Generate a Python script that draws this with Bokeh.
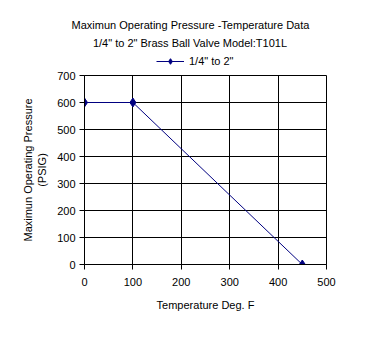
from bokeh.plotting import figure
from bokeh.models import Label, Legend, LegendItem, FixedTicker
from bokeh.layouts import column
from bokeh.embed import file_html
from bokeh.resources import INLINE

temperature = [0, 100, 450]
pressure = [600, 600, 0]
x_ticks = [0, 100, 200, 300, 400, 500]
y_ticks = [0, 100, 200, 300, 400, 500, 600, 700]
series_name = '1/4" to 2"'
title1 = "Maximun Operating Pressure -Temperature Data"
title2 = '1/4" to 2"  Brass Ball Valve Model:T101L'

FONT = "Liberation Sans"
NAVY = "#000080"

# ---- header (titles + legend) ----
HEAD_H = 70
head = figure(width=380, height=HEAD_H, x_range=(-1000, -999), y_range=(-1000, -999),
              output_backend="svg", toolbar_location=None,
              x_axis_location=None, y_axis_location=None,
              min_border=0, min_border_left=0, min_border_right=0,
              min_border_top=0, min_border_bottom=0)
head.frame_align = False
head.outline_line_color = None
head.xgrid.visible = False
head.ygrid.visible = False
head.background_fill_color = "white"
head.border_fill_color = "white"

for txt, xc, yc in ((title1, 190, HEAD_H - 24), (title2, 191, HEAD_H - 42)):
    head.add_layout(Label(x=xc, y=yc, x_units="screen", y_units="screen", text=txt,
                          text_align="center", text_baseline="middle",
                          text_font=FONT, text_font_size="11px", text_color="black"))

# legend proxies: same series, but outside this header's (empty) view range
leg_line = head.line(temperature, pressure, line_color=NAVY, line_width=1)
leg_pts = head.scatter(temperature, pressure, marker="diamond", size=9, fill_color=NAVY, line_color=NAVY)
legend = Legend(items=[LegendItem(label=series_name, renderers=[leg_line, leg_pts])],
                location=(156, 2), orientation="horizontal",
                label_text_font=FONT, label_text_font_size="11px", label_text_color="black",
                border_line_color=None, background_fill_alpha=0,
                glyph_width=28, glyph_height=14, padding=2, margin=0, label_standoff=5)
head.add_layout(legend, "center")

# ---- main chart ----
p = figure(width=380, height=347 - HEAD_H, x_range=(0, 500), y_range=(0, 700),
           output_backend="svg", toolbar_location=None,
           min_border_left=84, min_border_right=54, min_border_top=5, min_border_bottom=83)
p.frame_align = False
p.background_fill_color = "white"
p.border_fill_color = "white"
p.outline_line_color = "black"
p.outline_line_width = 1

p.line(temperature, pressure, line_color=NAVY, line_width=1)
p.scatter(temperature, pressure, marker="diamond", size=9, fill_color=NAVY, line_color=NAVY)

for ax in (p.xaxis[0], p.yaxis[0]):
    ax.axis_line_color = "black"
    ax.major_tick_line_color = "black"
    ax.major_tick_out = 5
    ax.major_tick_in = 0
    ax.minor_tick_line_color = None
    ax.major_label_text_font = FONT
    ax.major_label_text_font_size = "11px"
    ax.major_label_text_color = "black"
    ax.axis_label_text_font = FONT
    ax.axis_label_text_font_size = "11px"
    ax.axis_label_text_font_style = "normal"
    ax.axis_label_text_color = "black"

p.xaxis[0].ticker = FixedTicker(ticks=x_ticks)
p.yaxis[0].ticker = FixedTicker(ticks=y_ticks)
p.xaxis[0].axis_label = "Temperature Deg. F"
p.yaxis[0].axis_label = "Maximun Operating Pressure\n(PSIG)"
p.xaxis[0].major_label_standoff = 8
p.xaxis[0].axis_label_standoff = 10
p.yaxis[0].major_label_standoff = 4
p.yaxis[0].axis_label_standoff = 6

for g in (p.xgrid[0], p.ygrid[0]):
    g.grid_line_color = "black"
    g.grid_line_width = 1
    g.grid_line_alpha = 1.0

layout = column(head, p, spacing=0)
open("out.html", "w").write(file_html(layout, INLINE))
